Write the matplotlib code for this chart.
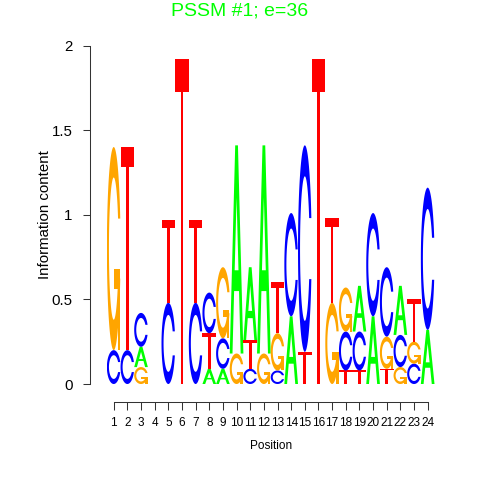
import numpy as np
import matplotlib
matplotlib.use("Agg")
import matplotlib.pyplot as plt

plt.rcParams['font.family'] = ['Liberation Sans', 'DejaVu Sans']

# letter heights (bits) for each position
positions = list(range(1, 25))
A = [0.00, 0.00, 0.12, 0.0, 0.00, 0.00, 0.00, 0.09, 0.09, 1.23, 0.43, 1.23,
     0.00, 0.40, 0.00, 0.00, 0.00, 0.00, 0.27, 0.40, 0.00, 0.29, 0.00, 0.32]
C = [0.20, 0.20, 0.20, 0.0, 0.48, 0.00, 0.48, 0.24, 0.18, 0.00, 0.09, 0.00,
     0.08, 0.61, 1.22, 0.00, 0.00, 0.23, 0.23, 0.61, 0.41, 0.19, 0.12, 0.84]
G = [1.20, 0.00, 0.10, 0.0, 0.00, 0.00, 0.00, 0.00, 0.42, 0.18, 0.00, 0.18,
     0.22, 0.00, 0.00, 0.00, 0.48, 0.26, 0.00, 0.00, 0.19, 0.10, 0.13, 0.00]
T = [0.00, 1.20, 0.00, 0.0, 0.49, 1.92, 0.49, 0.21, 0.00, 0.00, 0.17, 0.00,
     0.30, 0.00, 0.19, 1.92, 0.50, 0.08, 0.08, 0.00, 0.09, 0.00, 0.25, 0.00]

colors = {'A': '#00FF00', 'C': '#0000FF', 'G': '#FFA500', 'T': '#FF0000'}


# letter outlines on a unit box (seqLogo style polygons)
def shape_a():
    x = np.array([0, 4, 6, 10, 8, 6.8, 3.2, 2, 0]) * 0.1
    y = np.array([0, 10, 10, 0, 0, 3, 3, 0, 0]) * 0.1
    hx = np.array([3.6, 5, 6.4, 3.6]) * 0.1
    hy = np.array([4, 7.5, 4, 4]) * 0.1
    return [(x, y), (hx, hy)]


def shape_t():
    x = np.array([0, 10, 10, 6, 6, 4, 4, 0]) * 0.1
    y = np.array([10, 10, 9, 9, 0, 0, 9, 9]) * 0.1
    return [(x, y)]


def ring():
    a1 = np.linspace(0.3 + np.pi / 2, np.pi, 100)
    a2 = np.linspace(np.pi, 1.5 * np.pi, 100)
    xl1 = 0.5 + 0.5 * np.sin(a1)
    yl1 = 0.5 + 0.5 * np.cos(a1)
    xl = np.concatenate([xl1, 0.5 + 0.5 * np.sin(a2)])
    yl = np.concatenate([yl1, 0.5 + 0.5 * np.cos(a2)])
    x = np.concatenate([xl, xl[::-1]])
    y = np.concatenate([yl, 1 - yl[::-1]])
    xi1 = 0.5 + 0.35 * np.sin(a1)
    yi1 = 0.5 + 0.35 * np.cos(a1)
    keep = yi1 <= yl1.max()
    xi1, yi1 = xi1[keep], yi1[keep]
    yi1[0] = yl1.max()
    xi = np.concatenate([xi1, 0.5 + 0.35 * np.sin(a2)])
    yi = np.concatenate([yi1, 0.5 + 0.35 * np.cos(a2)])
    x1 = np.concatenate([xi, xi[::-1]])
    y1 = np.concatenate([yi, 1 - yi[::-1]])
    return np.concatenate([x, x1[::-1]]), np.concatenate([y, y1[::-1]]), xl1.max()


def shape_c():
    x, y, _ = ring()
    return [(x, y)]


def shape_g():
    x, y, r1 = ring()
    h1 = 0.4
    xa = np.array([r1, 0.5, 0.5, r1 - 0.2, r1 - 0.2, r1, r1])
    ya = np.array([h1, h1, h1 - 0.1, h1 - 0.1, 0, 0, h1])
    return [(x, y), (xa, ya)]


shapes = {'A': shape_a(), 'C': shape_c(), 'G': shape_g(), 'T': shape_t()}

fig = plt.figure(figsize=(4.8, 4.8), dpi=100)
ax = fig.add_axes([106.9 / 480, 96 / 480, 327.6 / 480, 338.5 / 480])

for i, pos in enumerate(positions):
    stack = sorted([('A', A[i]), ('C', C[i]), ('G', G[i]), ('T', T[i])], key=lambda s: s[1])
    base = 0.0
    for letter, h in stack:
        if h <= 0:
            continue
        parts = shapes[letter]
        for k, (px, py) in enumerate(parts):
            fill = 'white' if (letter == 'A' and k == 1) else colors[letter]
            ax.fill(pos - 0.5 + px, base + h * py, color=fill, lw=0)
        base += h

ax.set_xlim(0.5, 24.5)
ax.set_ylim(0, 2)
for s in ['top', 'right']:
    ax.spines[s].set_visible(False)
ax.spines['left'].set_position(('outward', 12.2))
ax.spines['bottom'].set_position(('outward', 12.7))
ax.spines['left'].set_bounds(0, 2)
ax.spines['bottom'].set_bounds(1, 24)
for s in ['left', 'bottom']:
    ax.spines[s].set_linewidth(0.75)
    ax.spines[s].set_color('#333333')

ax.set_yticks([0, 0.5, 1, 1.5, 2])
ax.set_yticklabels(['0', '0.5', '1', '1.5', '2'])
ax.set_xticks(positions)
ax.set_xticklabels([str(p) for p in positions])
ax.tick_params(axis='both', length=5.4, width=0.75, color='#333333')
ax.tick_params(axis='y', labelsize=10.8, pad=7)
ax.tick_params(axis='x', labelsize=8.5, pad=6)

fig.text(45 / 480, 1 - 215 / 480, 'Information content', rotation=90,
         ha='center', va='center', fontsize=10.8)
fig.text(270.7 / 480, 1 - 446 / 480, 'Position', ha='center', va='center', fontsize=8.5)
fig.text(0.5, 1 - 15.5 / 480, 'PSSM #1; e=36', ha='center', va='baseline',
         fontsize=14, color='#00FF00')

fig.savefig('out.png', dpi=100)
